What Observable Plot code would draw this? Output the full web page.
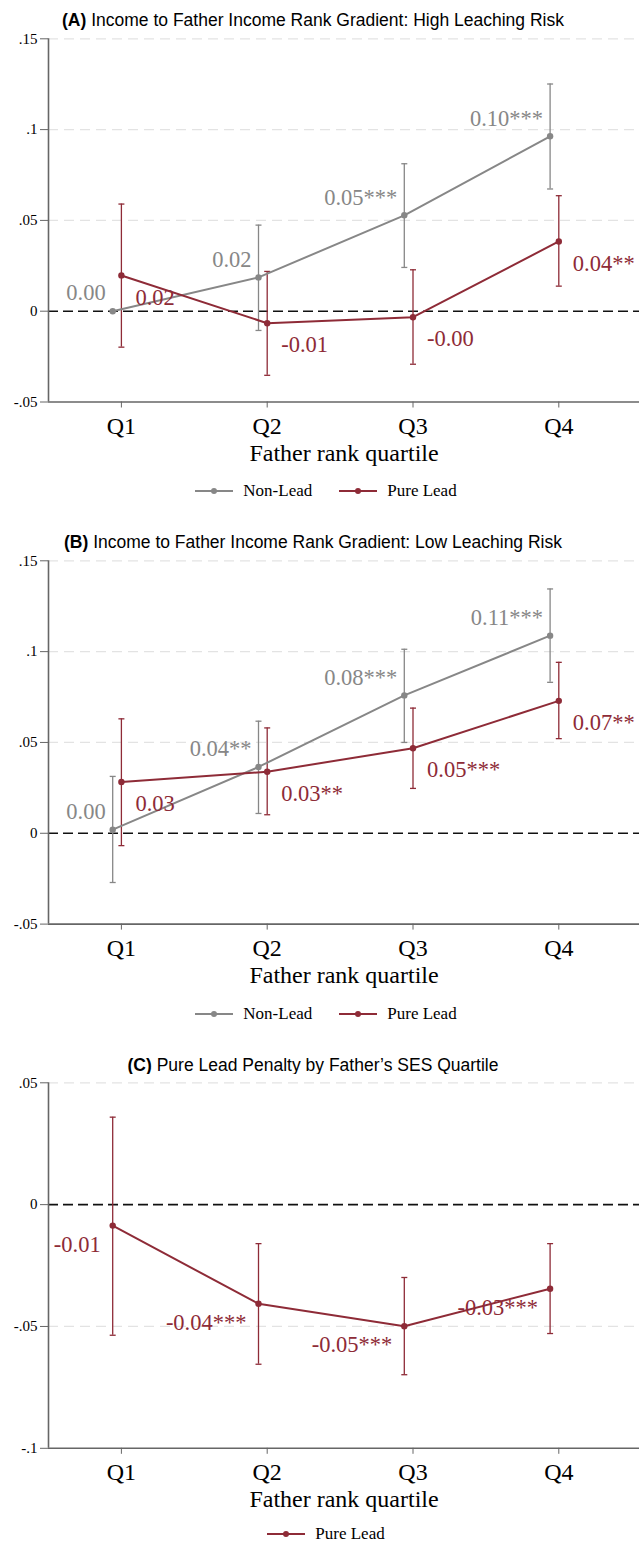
<!DOCTYPE html>
<html>
<head>
<meta charset="utf-8">
<script src="https://cdn.jsdelivr.net/npm/d3@7"></script>
<script src="https://cdn.jsdelivr.net/npm/@observablehq/plot@0.6"></script>
<style>
  html, body { margin: 0; padding: 0; background: white; }
  body { width: 639px; height: 1542px; position: relative; overflow: hidden; }
  .blk { position: absolute; left: 0; }
  .title { width: 626px; text-align: center; font-family: 'Liberation Sans', Arial, sans-serif; font-size: 17.5px; line-height: 20px; color: #000; white-space: nowrap; }
  .legend { width: 652px; display: flex; justify-content: center; align-items: center; font-family: 'Liberation Serif', 'Times New Roman', serif; font-size: 17px; line-height: 14px; height: 14px; color: #000; }
  .legend .item { display: flex; align-items: center; }
  .legend .item + .item { margin-left: 27px; }
  .legend svg { margin-right: 10px; display: block; }
  svg.plotsvg { overflow: hidden; }
</style>
</head>
<body>
<script>
// ---------------- data ----------------
const quartiles = ["Q1", "Q2", "Q3", "Q4"];
const quartileIndex = [1, 2, 3, 4];

// Panel A: High leaching risk
const aNonLeadEst = [0.0000, 0.0186, 0.0528, 0.0963];
const aNonLeadLo  = [null, -0.0106, 0.0241, 0.0673];
const aNonLeadHi  = [null, 0.0474, 0.0812, 0.1251];
const aNonLeadLbl = ["0.00", "0.02", "0.05***", "0.10***"];
const aLeadEst = [0.0197, -0.0066, -0.0033, 0.0384];
const aLeadLo  = [-0.0198, -0.0353, -0.0292, 0.0138];
const aLeadHi  = [0.0590, 0.0219, 0.0228, 0.0636];
const aLeadLbl = ["0.02", "-0.01", "-0.00", "0.04**"];

// Panel B: Low leaching risk
const bNonLeadEst = [0.0020, 0.0365, 0.0759, 0.1088];
const bNonLeadLo  = [-0.0271, 0.0109, 0.0500, 0.0831];
const bNonLeadHi  = [0.0313, 0.0617, 0.1013, 0.1345];
const bNonLeadLbl = ["0.00", "0.04**", "0.08***", "0.11***"];
const bLeadEst = [0.0282, 0.0339, 0.0468, 0.0729];
const bLeadLo  = [-0.0068, 0.0102, 0.0247, 0.0521];
const bLeadHi  = [0.0630, 0.0580, 0.0689, 0.0941];
const bLeadLbl = ["0.03", "0.03**", "0.05***", "0.07**"];

// Panel C: Pure lead penalty
const cLeadEst = [-0.0086, -0.0407, -0.0499, -0.0345];
const cLeadLo  = [-0.0536, -0.0655, -0.0698, -0.0529];
const cLeadHi  = [0.0359, -0.0160, -0.0299, -0.0160];
const cLeadLbl = ["-0.01", "-0.04***", "-0.05***", "-0.03***"];

const yTicksAB = [-0.05, 0, 0.05, 0.1, 0.15];
const yTicksC  = [-0.1, -0.05, 0, 0.05];

const titleA = "Income to Father Income Rank Gradient: High Leaching Risk";
const titleB = "Income to Father Income Rank Gradient: Low Leaching Risk";
const titleC = "Pure Lead Penalty by Father\u2019s SES Quartile";
const xTitle = "Father rank quartile";
const seriesNames = ["Non-Lead", "Pure Lead"];

// ---------------- styling ----------------
const GRAY = "#878787";
const RED = "#8e2b37";
const AXIS = "#666666";
const SERIF = "'Liberation Serif', 'Times New Roman', serif";
const DODGE = -8.7;

const rows = (est, lo, hi, lbl) => quartileIndex.map((q, i) => ({q, est: est[i], lo: lo[i], hi: hi[i], lbl: lbl[i]}));
const stataFmt = v => v === 0 ? "0" : String(+v.toFixed(2)).replace(/^(-?)0\./, "$1.");
const cap = { draw(ctx) { ctx.moveTo(-3, 0); ctx.lineTo(3, 0); } };

function ciMarks(data, color, dx) {
  const d = data.filter(r => r.lo != null && r.hi != null);
  return [
    Plot.ruleX(d, {x: "q", y1: "lo", y2: "hi", stroke: color, strokeWidth: 1.3, dx}),
    Plot.dot(d, {x: "q", y: "lo", symbol: cap, stroke: color, fill: "none", strokeWidth: 1.3, dx}),
    Plot.dot(d, {x: "q", y: "hi", symbol: cap, stroke: color, fill: "none", strokeWidth: 1.3, dx})
  ];
}
function lineMarks(data, color, dx, lab) {
  return [
    Plot.line(data, {x: "q", y: "est", stroke: color, strokeWidth: 2, dx}),
    Plot.dot(data, {x: "q", y: "est", r: 3.2, fill: color, stroke: "none", dx}),
    Plot.text(data, {x: "q", y: "est", text: "lbl", fill: color, fontSize: 22.5, fontFamily: SERIF,
      textAnchor: lab.anchor, lineAnchor: "middle", dx: dx + lab.dx, dy: lab.dy})
  ];
}

function panel({series, yDomain, yTicks, top, plotH}) {
  const marginTop = 8.3, height = 440;
  const marks = [
    Plot.gridY({ticks: yTicks.filter(t => t !== 0 && t !== yDomain[0]), stroke: "#e3e3e3", strokeOpacity: 1, strokeWidth: 1.3, strokeDasharray: "10,6"}),
    Plot.ruleY([0], {stroke: "#111", strokeWidth: 1.6, strokeDasharray: "10,5"}),
    Plot.ruleX([0.5], {stroke: AXIS, strokeWidth: 1.6}),
    Plot.ruleY([yDomain[0]], {stroke: AXIS, strokeWidth: 1.6}),
    Plot.axisY({ticks: yTicks, tickFormat: stataFmt, tickSize: 8, tickPadding: 3, fontSize: 15, fontFamily: SERIF, stroke: AXIS, fill: "black", label: null}),
    Plot.axisX({ticks: quartileIndex, tickFormat: q => quartiles[q - 1], tickSize: 6, tickPadding: 9, fontSize: 24, fontFamily: SERIF, stroke: AXIS, fill: "black", label: null}),
    Plot.text([xTitle], {frameAnchor: "bottom", lineAnchor: "middle", dy: 51, fontSize: 24, fontFamily: SERIF, fill: "black"})
  ];
  for (const s of series) marks.push(...ciMarks(s.data, s.color, s.dx));
  for (const s of series) marks.push(...lineMarks(s.data, s.color, s.dx, s.lab));
  const svg = Plot.plot({
    width: 639, height,
    marginLeft: 48, marginRight: 0, insetRight: 7.8,
    marginTop, marginBottom: height - marginTop - plotH,
    x: {type: "linear", domain: [0.5, 4.5]},
    y: {domain: yDomain},
    style: {background: "white", overflow: "hidden"},
    marks
  });
  svg.classList.add("plotsvg");
  svg.classList.add("blk");
  svg.style.top = top + "px";
  svg.style.position = "absolute";
  document.body.appendChild(svg);
}

function title(letter, text, cy) {
  const div = document.createElement("div");
  div.className = "blk title";
  div.style.top = (cy - 10) + "px";
  const b = document.createElement("b");
  b.textContent = "(" + letter + ")";
  div.appendChild(b);
  div.appendChild(document.createTextNode(" " + text));
  document.body.appendChild(div);
}

function legend(items, cy) {
  const div = document.createElement("div");
  div.className = "blk legend";
  div.style.top = (cy - 7) + "px";
  for (const it of items) {
    const item = document.createElement("div");
    item.className = "item";
    item.innerHTML = `<svg width="38" height="10"><line x1="0" x2="38" y1="5" y2="5" stroke="${it.color}" stroke-width="2"/><circle cx="19" cy="5" r="3" fill="${it.color}"/></svg><span>${it.name}</span>`;
    div.appendChild(item);
  }
  document.body.appendChild(div);
}

const grayLab = {anchor: "end", dx: -7, dy: -18};
const redLabAB = {anchor: "start", dx: 14, dy: 22};
const redLabC = {anchor: "end", dx: -12, dy: 19};

// Panel A
title("A", titleA, 20);
panel({
  series: [
    {data: rows(aNonLeadEst, aNonLeadLo, aNonLeadHi, aNonLeadLbl), color: GRAY, dx: DODGE, lab: grayLab},
    {data: rows(aLeadEst, aLeadLo, aLeadHi, aLeadLbl), color: RED, dx: 0, lab: redLabAB}
  ],
  yDomain: [-0.05, 0.15], yTicks: yTicksAB, top: 30, plotH: 363.2
});
legend([{name: seriesNames[0], color: GRAY}, {name: seriesNames[1], color: RED}], 491);

// Panel B
title("B", titleB, 542);
panel({
  series: [
    {data: rows(bNonLeadEst, bNonLeadLo, bNonLeadHi, bNonLeadLbl), color: GRAY, dx: DODGE, lab: grayLab},
    {data: rows(bLeadEst, bLeadLo, bLeadHi, bLeadLbl), color: RED, dx: 0, lab: redLabAB}
  ],
  yDomain: [-0.05, 0.15], yTicks: yTicksAB, top: 552.4, plotH: 363.3
});
legend([{name: seriesNames[0], color: GRAY}, {name: seriesNames[1], color: RED}], 1013.5);

// Panel C
title("C", titleC, 1065);
panel({
  series: [
    {data: rows(cLeadEst, cLeadLo, cLeadHi, cLeadLbl), color: RED, dx: DODGE, lab: redLabC}
  ],
  yDomain: [-0.1, 0.05], yTicks: yTicksC, top: 1073.7, plotH: 365.5
});
legend([{name: seriesNames[1], color: RED}], 1534);
</script>
</body>
</html>
